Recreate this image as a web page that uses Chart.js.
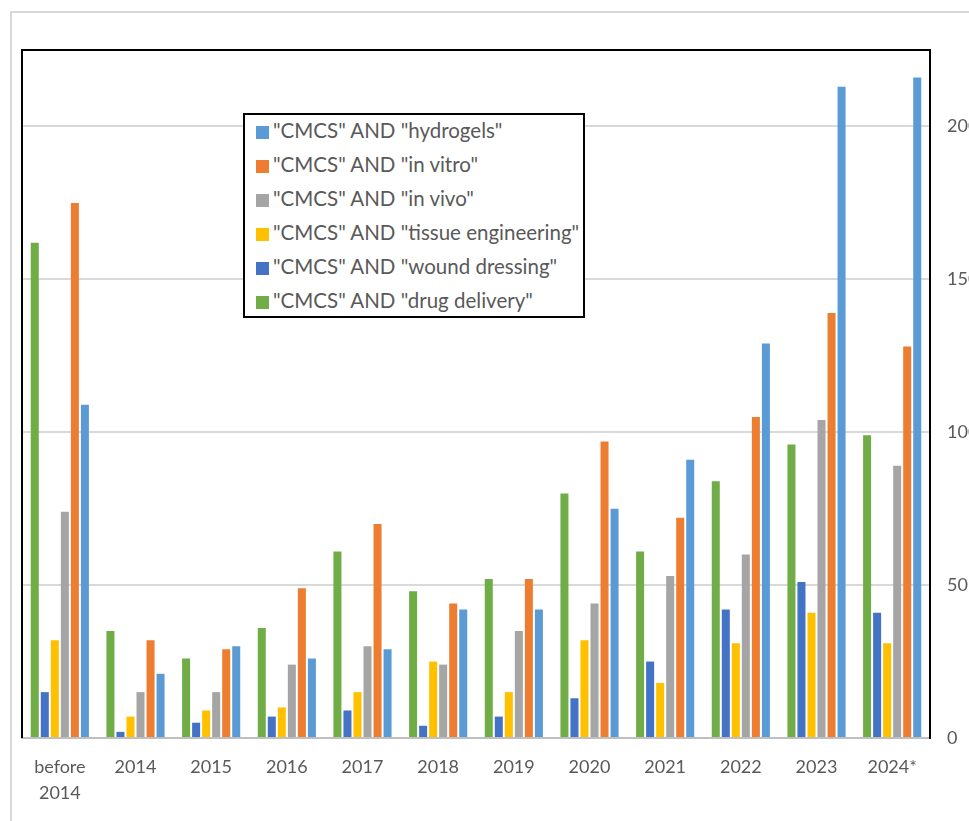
<!DOCTYPE html>
<html lang="en">
<head>
<meta charset="UTF-8">
<title>CMCS publications</title>
<script src="https://cdn.jsdelivr.net/npm/chart.js"></script>
<style>
  html, body { margin: 0; padding: 0; background: #fff; overflow: hidden; width: 969px; height: 821px; }
  .frame { position: absolute; left: 10px; top: 11px; width: 1100px; height: 900px; border: 2px solid #d9d9d9; }
  .wrap { position: absolute; left: 0; top: 0; width: 1000px; height: 821px; }
  #legend { position: absolute; left: 243px; top: 113px; width: 338px; height: 201px; border: 2px solid #000; background: #fff;
            font-family: Lato, "Open Sans", sans-serif; font-size: 20.5px; color: #595959; }
  #legend .item { position: absolute; left: 11px; height: 34px; line-height: 34px; white-space: nowrap; }
  #legend .sw { display: inline-block; width: 13px; height: 13px; margin-right: 4px; vertical-align: -1px; }
</style>
</head>
<body>
<div class="frame"></div>
<div class="wrap"><canvas id="chart" width="1000" height="821"></canvas></div>
<div id="legend"></div>

<script>
// categories and series (number of records)
const categories = [['before', '2014'], '2014', '2015', '2016', '2017', '2018', '2019', '2020', '2021', '2022', '2023', '2024*'];

const drugDelivery      = [162, 35, 26, 36, 61, 48, 52, 80, 61, 84, 96, 99];
const woundDressing     = [15, 2, 5, 7, 9, 4, 7, 13, 25, 42, 51, 41];
const tissueEngineering = [32, 7, 9, 10, 15, 25, 15, 32, 18, 31, 41, 31];
const inVivo            = [74, 15, 15, 24, 30, 24, 35, 44, 53, 60, 104, 89];
const inVitro           = [175, 32, 29, 49, 70, 44, 52, 97, 72, 105, 139, 128];
const hydrogels         = [109, 21, 30, 26, 29, 42, 42, 75, 91, 129, 213, 216];

const seriesLabels = ['"CMCS" AND "drug delivery"', '"CMCS" AND "wound dressing"', '"CMCS" AND "tissue engineering"',
                      '"CMCS" AND "in vivo"', '"CMCS" AND "in vitro"', '"CMCS" AND "hydrogels"'];
const seriesColors = ['#70AD47', '#4472C4', '#FFC000', '#A5A5A5', '#ED7D31', '#5B9BD5'];
const seriesData = [drugDelivery, woundDressing, tissueEngineering, inVivo, inVitro, hydrogels];

const yMax = 225;
const yStep = 50;

// legend (box inside plot, reversed order like the original)
const legend = document.getElementById('legend');
seriesLabels.slice().reverse().forEach((label, i) => {
    const color = seriesColors[seriesLabels.length - 1 - i];
    const div = document.createElement('div');
    div.className = 'item';
    div.style.top = (i * 34 - 2) + 'px';
    div.innerHTML = '<span class="sw" style="background:' + color + '"></span>';
    div.appendChild(document.createTextNode(label));
    legend.appendChild(div);
});

// black frame around the plot area (left and top sides)
const plotFrame = {
    id: 'plotFrame',
    afterDraw(chart) {
        const { ctx, chartArea: a } = chart;
        ctx.save();
        ctx.strokeStyle = '#000';
        ctx.lineWidth = 2;
        ctx.beginPath();
        ctx.moveTo(a.left, a.bottom);
        ctx.lineTo(a.left, a.top);
        ctx.lineTo(a.right, a.top);
        ctx.stroke();
        ctx.restore();
    }
};

const ctx = document.getElementById('chart').getContext('2d');
new Chart(ctx, {
    type: 'bar',
    data: {
        labels: categories,
        datasets: seriesData.map((d, i) => ({
            label: seriesLabels[i],
            data: d,
            backgroundColor: seriesColors[i],
            categoryPercentage: 0.795,
            barPercentage: 0.8
        }))
    },
    options: {
        responsive: false,
        animation: false,
        layout: { padding: { left: 22, top: 50, right: 0, bottom: 0 } },
        plugins: {
            legend: { display: false },
            tooltip: { enabled: false }
        },
        scales: {
            x: {
                afterFit: (s) => { s.height = 83; },
                grid: { display: false, drawTicks: false },
                border: { color: '#bfbfbf', width: 2 },
                ticks: {
                    color: '#595959',
                    padding: 16,
                    maxRotation: 0,
                    autoSkip: false,
                    font: { family: 'Lato', size: 18, lineHeight: 1.45 }
                }
            },
            y: {
                position: 'right',
                min: 0,
                max: yMax,
                afterFit: (s) => { s.width = 70; },
                grid: { color: '#d9d9d9', lineWidth: 2, drawTicks: false },
                border: { color: '#000', width: 2 },
                ticks: {
                    stepSize: yStep,
                    includeBounds: false,
                    padding: 17,
                    color: '#595959',
                    font: { family: 'Lato', size: 18 }
                }
            }
        }
    },
    plugins: [plotFrame]
});
</script>
</body>
</html>
